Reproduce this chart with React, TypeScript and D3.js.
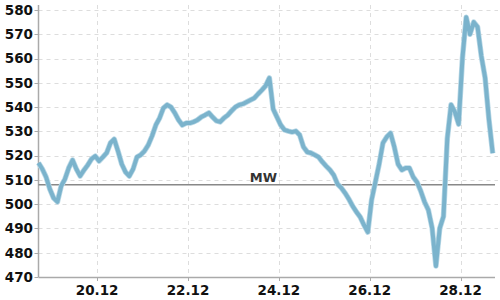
import React from "react";
import * as d3 from "d3";

const startTime = new Date(2023, 11, 18, 17, 0);
const stepHours = 2;
const values: number[] = [
  517, 514.5, 511.2, 506.2, 502.5, 501, 507.5, 510.4, 515, 518.2,
  514.5, 511.6, 514, 516.1, 518.6, 519.8, 517.8, 519.4, 521.1, 525.2,
  526.8, 521.9, 516.5, 513.2, 511.6, 514.5, 519.4, 520.3, 521.9, 524.4,
  528.1, 532.6, 535.5, 539.6, 540.9, 540, 537.6, 534.7, 532.6, 533.4,
  533.4, 533.9, 534.7, 535.9, 536.7, 537.6, 535.9, 534.3, 533.9, 535.5,
  536.7, 538.4, 540, 540.9, 541.3, 542.1, 542.9, 543.7, 545.4, 547,
  548.7, 552, 539.2, 535.9, 532.6, 530.6, 530.1, 529.7, 530.1, 528.5,
  523.6, 521.5, 521.1, 520.3, 519.4, 517.4, 515.7, 514.1, 512, 508.3,
  506.7, 504.6, 502.1, 499.2, 496.8, 494.7, 491.4, 488.5, 501.7, 509.1,
  516.5, 525.2, 527.7, 529.3, 523.6, 516.5, 514.1, 514.9, 514.9, 511.2,
  509.1, 505.4, 500.9, 497.6, 490.2, 474.5, 490, 495, 527, 541,
  538, 533, 560, 577, 570, 575, 573, 561, 552, 535,
  521,
];
const meanValue = 508;
const meanLabel = "MW";
const yTicks = [470, 480, 490, 500, 510, 520, 530, 540, 550, 560, 570, 580];
const xTickDates = [
  new Date(2023, 11, 20),
  new Date(2023, 11, 22),
  new Date(2023, 11, 24),
  new Date(2023, 11, 26),
  new Date(2023, 11, 28),
];

const W = 500;
const H = 300;
const left = 38.5;
const right = 492.7;
const top = 10;
const bottom = 277;

export default function App() {
  const data = values.map((v, i) => ({
    t: new Date(startTime.getTime() + i * stepHours * 3600 * 1000),
    v,
  }));
  const x = d3
    .scaleTime()
    .domain([data[0].t, data[data.length - 1].t])
    .range([left, right]);
  const y = d3.scaleLinear().domain([470, 580]).range([bottom, top]);
  const line = d3
    .line<{ t: Date; v: number }>()
    .x((d) => x(d.t))
    .y((d) => y(d.v))
    .curve(d3.curveLinear);
  const fmt = d3.timeFormat("%d.%m");
  const font = "DejaVu Sans, sans-serif";

  return (
    <svg
      width={W}
      height={H}
      style={{ position: "absolute", left: 0, top: 0, background: "#fff" }}
    >
      {yTicks.slice(1).map((t) => (
        <line
          key={"gy" + t}
          x1={left}
          x2={498}
          y1={Math.round(y(t)) + 0.5}
          y2={Math.round(y(t)) + 0.5}
          stroke="#ddd"
          strokeDasharray="4,4"
        />
      ))}
      {xTickDates.map((d, i) => (
        <line
          key={"gx" + i}
          x1={Math.round(x(d)) + 0.5}
          x2={Math.round(x(d)) + 0.5}
          y1={5}
          y2={bottom}
          stroke="#ddd"
          strokeDasharray="4,4"
        />
      ))}
      <line x1={left} x2={left} y1={5} y2={bottom} stroke="#aaa" strokeWidth={1.5} />
      <line x1={left} x2={495} y1={bottom + 0.5} y2={bottom + 0.5} stroke="#aaa" strokeWidth={1.5} />
      {yTicks.map((t) => (
        <g key={"ty" + t}>
          <line
            x1={left - 4}
            x2={left}
            y1={Math.round(y(t)) + 0.5}
            y2={Math.round(y(t)) + 0.5}
            stroke="#aaa"
          />
          <text
            x={33}
            y={y(t)}
            dy="0.36em"
            textAnchor="end"
            fontFamily={font}
            fontWeight="bold"
            fontSize={13.5}
            fill="#111"
          >
            {t}
          </text>
        </g>
      ))}
      {xTickDates.map((d, i) => (
        <g key={"tx" + i}>
          <line
            x1={Math.round(x(d)) + 0.5}
            x2={Math.round(x(d)) + 0.5}
            y1={bottom}
            y2={bottom + 4}
            stroke="#aaa"
          />
          <text
            x={x(d)}
            y={295}
            textAnchor="middle"
            fontFamily={font}
            fontWeight="bold"
            fontSize={13.5}
            fill="#111"
          >
            {fmt(d)}
          </text>
        </g>
      ))}
      <line
        x1={left}
        x2={495}
        y1={y(meanValue)}
        y2={y(meanValue)}
        stroke="#888"
        strokeWidth={1.5}
      />
      <text
        x={277}
        y={182}
        textAnchor="end"
        fontFamily={font}
        fontWeight="bold"
        fontSize={13}
        fill="#333"
      >
        {meanLabel}
      </text>
      <path
        d={line(data) || ""}
        fill="none"
        stroke="#b9d8e6"
        strokeWidth={5.5}
        strokeLinejoin="round"
      />
      <path
        d={line(data) || ""}
        fill="none"
        stroke="#7bb3cc"
        strokeWidth={4}
        strokeLinejoin="round"
      />
    </svg>
  );
}
